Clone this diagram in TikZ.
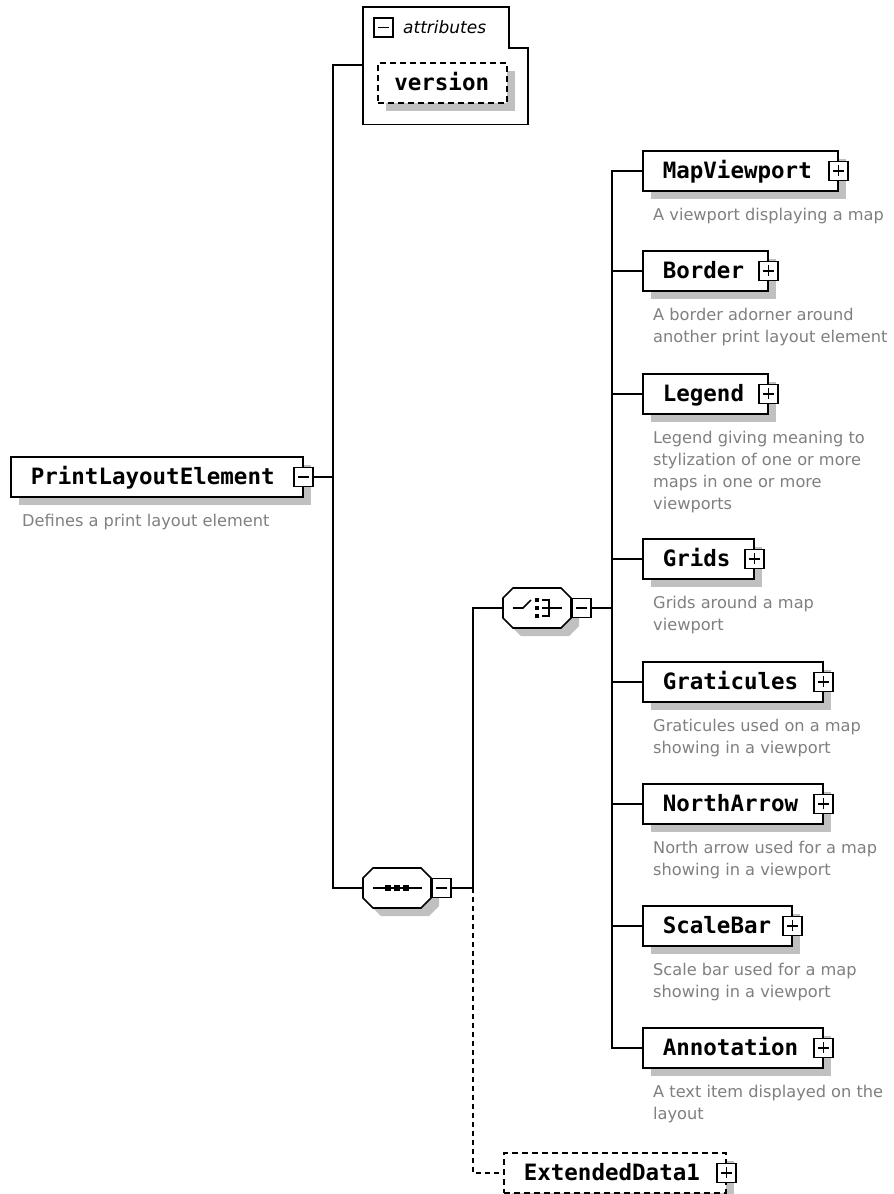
\documentclass[tikz,border=0pt]{standalone}
\usepackage{fontspec}
\setmainfont{DejaVu Sans}
\newfontfamily\elemfont{DejaVu Sans Mono}
\usetikzlibrary{shadows,calc}

\definecolor{shgray}{RGB}{192,192,192}
\definecolor{descgray}{RGB}{128,128,128}

\tikzset{
  conn/.style={line width=1.6pt},
  dashconn/.style={conn, dash pattern=on 5pt off 4pt},
  elem/.style={draw, line width=1.6pt, fill=white, anchor=north west,
    minimum height=40pt, inner xsep=20pt, inner ysep=0pt, align=left,
    text height=16pt, text depth=0pt,
    font=\elemfont\bfseries\fontsize{22.5}{24}\selectfont,
    drop shadow={shadow xshift=8pt, shadow yshift=-8pt, fill=shgray, opacity=1}},
  optelem/.style={elem, dash pattern=on 6pt off 4pt},
  desc/.style={anchor=north west, inner sep=0pt, align=left, text=descgray,
    font=\fontsize{16.2}{22}\selectfont},
  pmbox/.style={draw, line width=1.6pt, fill=white, minimum size=19pt, inner sep=0pt},
  minusbox/.style={pmbox, path picture={
    \draw[line width=1.6pt] ([xshift=4pt]path picture bounding box.west) --
      ([xshift=-4pt]path picture bounding box.east);}},
  plusbox/.style={pmbox, path picture={
    \draw[line width=1.6pt] ([xshift=4pt]path picture bounding box.west) --
      ([xshift=-4pt]path picture bounding box.east)
      ([yshift=-4pt]path picture bounding box.north) --
      ([yshift=4pt]path picture bounding box.south);}},
  comp/.style={minimum width=68pt, minimum height=40pt, inner sep=0pt},
  octpath/.style={insert path={++(-24,-20) -- ++(48,0) -- ++(10,10) -- ++(0,20)
    -- ++(-10,10) -- ++(-48,0) -- ++(-10,-10) -- ++(0,-20) -- cycle}},
  icon/.style={line width=1.6pt},
}

% child element: name, top, text width, label, description
\newcommand\childelem[5]{%
  \node[elem, text width=#3pt] (#1) at (642,#2) {#4};
  \node[plusbox] (#1pm) at (#1.east) {};
  \node[desc] (#1d) at (653,#2+58) {#5};
}

\begin{document}
\begin{tikzpicture}[x=1pt, y=-1pt]
\fill[white] (0,0) rectangle (894,1194);
\useasboundingbox (0,0) rectangle (894,1194);

% attribute group
\node[minimum width=165pt, minimum height=117pt, inner sep=0pt, anchor=north west] (attr) at (363,7) {};
\draw[line width=1.6pt] (attr.north west) -- ++(146,0) -- ++(0,41) -- ++(19,0)
  |- (attr.south west) -- cycle;
\node[minusbox] (attrpm) at (383.5,27.5) {};
\node[anchor=west, inner sep=0pt, font=\itshape\fontsize{17}{20}\selectfont] (attrlabel) at (403,27) {attributes};
\node[optelem, text width=96pt, inner xsep=16.5pt] (version) at (377,62) {version};
\coordinate (attrlink) at ($(attr.north west)+(0,58)$);

% root element
\node[elem, text width=252pt] (root) at (10,456) {PrintLayoutElement};
\node[minusbox] (rootpm) at (root.east) {};
\node[desc] (rootd) at (22,514) {Defines a print layout element};

% sequence compositor
\node[comp] (seq) at (397,888) {};
\fill[shgray] ($(seq.center)+(8,8)$) [octpath];
\draw[line width=1.6pt, fill=white] (seq.center) [octpath];
\draw[icon] ($(seq.center)+(-24,0)$) -- ($(seq.center)+(25,0)$);
\foreach \dx in {-9,0,9}
  \fill ($(seq.center)+(\dx-3,-3)$) rectangle +(6,6);
\node[minusbox, anchor=west] (seqpm) at (seq.east) {};

% choice compositor
\node[comp] (choice) at (537,608) {};
\fill[shgray] ($(choice.center)+(8,8)$) [octpath];
\draw[line width=1.6pt, fill=white] (choice.center) [octpath];
\draw[icon] ($(choice.center)+(-24,0)$) -- ($(choice.center)+(-14,0)$)
  -- ($(choice.center)+(-6,-8)$);
\foreach \dy in {-8,0,8}
  \fill ($(choice.center)+(-2,\dy-2)$) rectangle +(4,4);
\draw[icon] ($(choice.center)+(5,-8)$) -- ($(choice.center)+(12,-8)$)
  -- ($(choice.center)+(12,8)$) -- ($(choice.center)+(5,8)$);
\draw[icon] ($(choice.center)+(5,0)$) -- ($(choice.center)+(25,0)$);
\node[minusbox, anchor=west] (choicepm) at (choice.east) {};

% child elements
\childelem{MapViewport}{150}{155}{MapViewport}{A viewport displaying a map}
\childelem{Border}{250}{85}{Border}{A border adorner around\\another print layout element}
\childelem{Legend}{373}{85}{Legend}{Legend giving meaning to\\stylization of one or more\\maps in one or more\\viewports}
\childelem{Grids}{538}{71}{Grids}{Grids around a map\\viewport}
\childelem{Graticules}{661}{140}{Graticules}{Graticules used on a map\\showing in a viewport}
\childelem{NorthArrow}{783}{140}{NorthArrow}{North arrow used for a map\\showing in a viewport}
\childelem{ScaleBar}{905}{109}{ScaleBar}{Scale bar used for a map\\showing in a viewport}
\childelem{Annotation}{1027}{140}{Annotation}{A text item displayed on the\\layout}

% optional element
\node[optelem, text width=182pt] (ext) at (503,1152) {ExtendedData1};
\node[plusbox] (extpm) at (ext.east) {};

% connectors
\coordinate (rt) at (333,0);
\coordinate (ch) at (473,0);
\coordinate (tr) at (612,0);
\draw[conn] (rootpm.east) -- (rootpm.east -| rt);
\draw[conn] (attrlink) -- (attrlink -| rt) -- (seq.west -| rt) -- (seq.west);
\draw[conn] (seqpm.east) -- (seqpm.east -| ch) -- (choice.west -| ch) -- (choice.west);
\draw[dashconn] (seqpm.east -| ch) -- (ext.west -| ch) -- (ext.west);
\draw[conn] (choicepm.east) -- (choicepm.east -| tr);
\draw[conn] (MapViewport.west) -- (MapViewport.west -| tr) -- (Annotation.west -| tr) -- (Annotation.west);
\foreach \n in {Border,Legend,Grids,Graticules,NorthArrow,ScaleBar}
  \draw[conn] (\n.west -| tr) -- (\n.west);
\end{tikzpicture}
\end{document}
